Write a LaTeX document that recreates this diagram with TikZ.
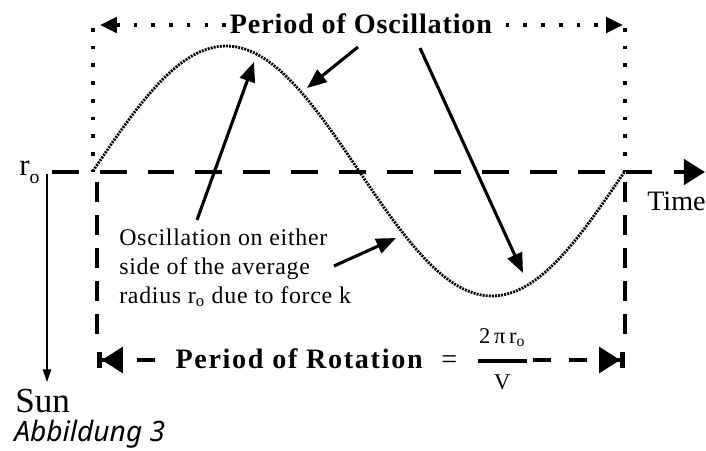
\documentclass[tikz,border=0pt]{standalone}
\usepackage{fontspec}
\setmainfont{Liberation Serif}
\newfontfamily\capfont{Noto Sans}
\usepackage{tikz}
\usetikzlibrary{arrows.meta, positioning}
\tikzset{
  % Line styles
  axisline/.style={line width=2.8pt, dash pattern=on 19pt off 15pt, -{Triangle[length=15pt, width=18pt]}},
  dotline/.style={line width=2.6pt, dash pattern=on 2.6pt off 10pt},
  spanline/.style={dotline, {Triangle[length=12pt, width=11pt]}-{Triangle[length=12pt, width=11pt]}},
  boundline/.style={line width=3.4pt, dash pattern=on 14pt off 9.5pt},
  rotline/.style={line width=3.4pt, dash pattern=on 12.8pt off 12.8pt,
    {Bar[width=12pt, line width=3.4pt]Triangle[length=15pt, width=18pt]}-{Triangle[length=15pt, width=18pt]Bar[width=12pt, line width=3.4pt]}},
  wave/.style={line width=2pt, dash pattern=on 1.4pt off 0.8pt},
  pointer/.style={line width=2.2pt, -{Triangle[length=14pt, width=11pt]}},
  sunline/.style={line width=0.8pt, -{Triangle[length=9pt, width=6pt]}},
  % Text styles
  headlbl/.style={font=\fontsize{20}{24}\selectfont\bfseries, fill=white, inner sep=3pt},
  lbl/.style={font=\fontsize{20}{24}\selectfont, inner sep=0pt},
  note/.style={font=\fontsize{17}{20.6}\selectfont\addfontfeatures{LetterSpace=3}, align=left, inner sep=0pt},
}

\begin{document}
\begin{tikzpicture}[x=0.025cm, y=-0.025cm]
  \useasboundingbox (0,0) rectangle (706,450);

  % Reference points
  \coordinate (o) at (93,172);
  \coordinate (e) at (625,172);
  \coordinate (ax0) at (52,172);
  \coordinate (ax1) at (705,172);
  \coordinate (tl) at (93,28);
  \coordinate (tr) at (625,28);
  \coordinate (pl) at (100,25);
  \coordinate (pr) at (623,25);
  \coordinate (bl0) at (97,182);
  \coordinate (bl1) at (97,340);
  \coordinate (br0) at (625,182);
  \coordinate (br1) at (625,340);
  \coordinate (rl) at (97,360);
  \coordinate (rr) at (625,360);

  % Radius line and the orbit
  \draw[axisline] (ax0) -- (ax1);
  \draw[wave] plot[domain=0:360, samples=120] ({93+\x/360*532},{171-125*sin(\x)});

  % Period of oscillation
  \draw[dotline] (tl) -- (o);
  \draw[dotline] (tr) -- (e);
  \draw[spanline] (pl) -- (pr);
  \node[headlbl, anchor=base] (osc) at (361,33) {\addfontfeatures{LetterSpace=3}Period of Oscillation};

  % Period of rotation
  \draw[boundline] (bl0) -- (bl1);
  \draw[boundline] (br0) -- (br1);
  \draw[rotline] (rl) -- (rr);
  \node[headlbl, anchor=base west] (rot) at (171,368) {{\addfontfeatures{LetterSpace=6}Period of Rotation}
    {\mdseries\ \,=\ \, \(\displaystyle{\mbox{\fontsize{16}{16}\selectfont \hspace{1pt}2\,π\,r\textsubscript{o}\hspace{1pt}}\above 2.8pt\mbox{\fontsize{16}{16}\selectfont V}}\)}};

  % Labels
  \node[lbl, font=\fontsize{22}{24}\selectfont, anchor=base west] (ro) at (19,175) {r\raisebox{-6pt}{\fontsize{14}{14}\selectfont o}};
  \node[lbl, anchor=base west] (time) at (647,210) {Time};
  \node[lbl, font=\fontsize{25}{30}\selectfont, anchor=base west] (sun) at (15,412) {Sun};
  \node[lbl, font=\fontsize{20}{24}\capfont\itshape, anchor=base west] (cap) at (14,441) {Abbildung 3};
  \node[note, anchor=base west] (txt) at (119,303) {Oscillation on either\\side of the average\\radius r\textsubscript{o} due to force k};

  % Direction of the sun
  \coordinate (s0) at (47,174);
  \coordinate (s1) at (47,382);
  \draw[sunline] (s0) -- (s1);

  % Pointers to the orbit
  \coordinate (a1s) at (197,220);
  \coordinate (peak) at (254,62);
  \coordinate (a2s) at (358,47);
  \coordinate (fall) at (307,88);
  \coordinate (a3s) at (420,48);
  \coordinate (trough) at (523,273);
  \coordinate (a4s) at (334,266);
  \coordinate (rise) at (396,238);
  \draw[pointer] (a1s) -- (peak);
  \draw[pointer] (a2s) -- (fall);
  \draw[pointer] (a3s) -- (trough);
  \draw[pointer] (a4s) -- (rise);
\end{tikzpicture}
\end{document}
